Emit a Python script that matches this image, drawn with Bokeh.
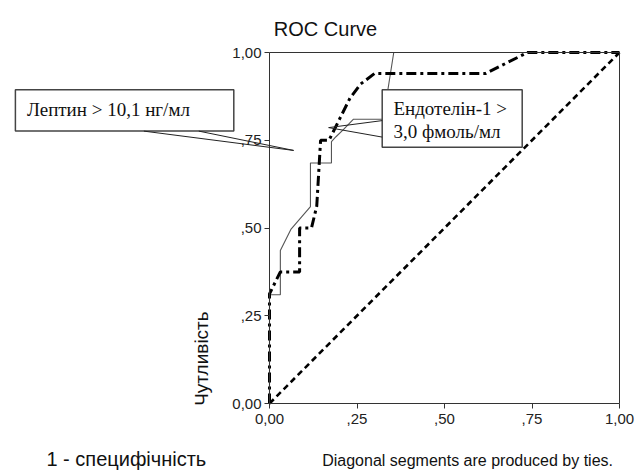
from bokeh.plotting import figure
from bokeh.models import Label, BoxAnnotation, Arrow, FixedTicker, LinearAxis
from bokeh.embed import file_html
from bokeh.resources import INLINE
import math

# ---- data ----
tick_values = [0.0, 0.25, 0.5, 0.75, 1.0]
tick_labels = ["0,00", ",25", ",50", ",75", "1,00"]

# Leptin > 10,1 ng/ml  (thin solid line)
leptin_fpr = [0.0, 0.0, 0.031, 0.031, 0.061, 0.117, 0.117, 0.177, 0.177, 0.19, 0.211, 0.24, 0.325, 0.355, 1.0]
leptin_tpr = [0.0, 0.31, 0.31, 0.436, 0.496, 0.561, 0.685, 0.685, 0.746, 0.76, 0.78, 0.81, 0.81, 1.0, 1.0]

# Endothelin-1 > 3,0 fmol/ml  (thick dash-dot line)
endo_fpr = [0.0, 0.0, 0.031, 0.086, 0.086, 0.12, 0.135, 0.146, 0.17, 0.2, 0.23, 0.26, 0.3, 0.617, 0.737, 1.0]
endo_tpr = [0.0, 0.3125, 0.375, 0.375, 0.5, 0.5, 0.5625, 0.75, 0.75, 0.81, 0.87, 0.91, 0.94, 0.94, 1.0, 1.0]

# reference diagonal
diag_x = [0.0, 1.0]
diag_y = [0.0, 1.0]

title_text = "ROC Curve"
y_title = "Чутливість"
x_title = "1 - специфічність"
footnote = "Diagonal segments are produced by ties."
leptin_text = "Лептин > 10,1 нг/мл"
endo_text = ["Ендотелін-1 >", "3,0 фмоль/мл"]

SANS = "Liberation Sans"
SERIF = "Liberation Serif"
AX = "#333333"

# The frame covers the whole canvas; the unit square is placed where the reference shows it.
W, H = 636, 470
PX0, PX1 = 269.0, 619.0   # pixel x of 0 and 1
PY0, PY1 = 403.0, 52.0    # pixel y of 0 and 1
sx = PX1 - PX0
sy = PY0 - PY1
x_range = ((0 - PX0) / sx, (W - PX0) / sx)
y_range = ((PY0 - H) / sy, PY0 / sy)

p = figure(width=W, height=H, x_range=x_range, y_range=y_range,
           output_backend="svg", toolbar_location=None, tools="",
           x_axis_location=None, y_axis_location=None, min_border=0)
p.title = None
p.grid.visible = False
p.outline_line_color = None
p.background_fill_color = "white"
p.border_fill_color = "white"


def styled_axis(loc, labels=True):
    ax = LinearAxis(fixed_location=loc, bounds=(0.0, 1.0))
    ax.axis_line_color = AX
    ax.axis_line_width = 1
    ax.minor_tick_line_color = None
    if labels:
        ax.ticker = FixedTicker(ticks=tick_values)
        ax.major_label_overrides = {v: t for v, t in zip(tick_values, tick_labels)}
        ax.major_tick_in = 0
        ax.major_tick_out = 5
        ax.major_tick_line_color = AX
        ax.major_label_text_font = SANS
        ax.major_label_text_font_size = "15px"
        ax.major_label_text_color = "#222222"
    else:
        ax.ticker = FixedTicker(ticks=[])
        ax.major_tick_line_color = None
        ax.major_label_text_font_size = "0px"
    return ax


xb = styled_axis(0.0)
xb.major_label_standoff = 5
yl = styled_axis(0.0)
yl.major_label_standoff = 3
p.add_layout(xb, "below")
p.add_layout(yl, "left")
p.add_layout(styled_axis(1.0, labels=False), "above")
p.add_layout(styled_axis(1.0, labels=False), "right")

# curves
p.line(diag_x, diag_y, line_color="black", line_width=2.6, line_dash="6 4")
p.line(leptin_fpr, leptin_tpr, line_color="#555555", line_width=1.1)
p.line(endo_fpr, endo_tpr, line_color="black", line_width=3, line_dash="10 4 3 4")

# call-out boxes
p.add_layout(BoxAnnotation(left=-0.726, right=-0.102, top=0.894, bottom=0.776,
                           fill_color="white", fill_alpha=1, line_color="#444444",
                           line_width=1.5, line_alpha=1))
p.add_layout(BoxAnnotation(left=0.322, right=0.722, top=0.894, bottom=0.730,
                           fill_color="white", fill_alpha=1, line_color="#444444",
                           line_width=1.5, line_alpha=1))

# call-out wedges
for xs, ys, xe, ye in [(-0.359, 0.776, 0.069, 0.721), (-0.202, 0.776, 0.069, 0.721),
                       (0.322, 0.806, 0.169, 0.786), (0.322, 0.759, 0.169, 0.786)]:
    p.add_layout(Arrow(x_start=xs, y_start=ys, x_end=xe, y_end=ye, end=None,
                       line_color="#222222", line_width=1))

# call-out texts
p.add_layout(Label(x=-0.693, y=0.839, text=leptin_text, text_font=SERIF,
                   text_font_size="19px", text_baseline="middle", text_color="#111111"))
p.add_layout(Label(x=0.354, y=0.84, text=endo_text[0], text_font=SERIF,
                   text_font_size="19px", text_baseline="middle", text_color="#111111"))
p.add_layout(Label(x=0.354, y=0.776, text=endo_text[1], text_font=SERIF,
                   text_font_size="19px", text_baseline="middle", text_color="#111111"))

# titles
p.add_layout(Label(x=0.16, y=1.068, text=title_text, text_font=SANS, text_font_size="20px",
                   text_align="center", text_baseline="middle", text_color="#111111"))
p.add_layout(Label(x=-0.194, y=0.128, text=y_title, text_font=SANS, text_font_size="19px",
                   angle=math.pi / 2, text_align="center", text_baseline="middle",
                   text_color="#111111"))
p.add_layout(Label(x=-0.409, y=-0.158, text=x_title, text_font=SANS, text_font_size="20px",
                   text_align="center", text_baseline="middle", text_color="#111111"))
p.add_layout(Label(x=0.566, y=-0.163, text=footnote, text_font=SANS, text_font_size="16px",
                   text_align="center", text_baseline="middle", text_color="#111111"))

open("out.html", "w").write(file_html(p, INLINE))
